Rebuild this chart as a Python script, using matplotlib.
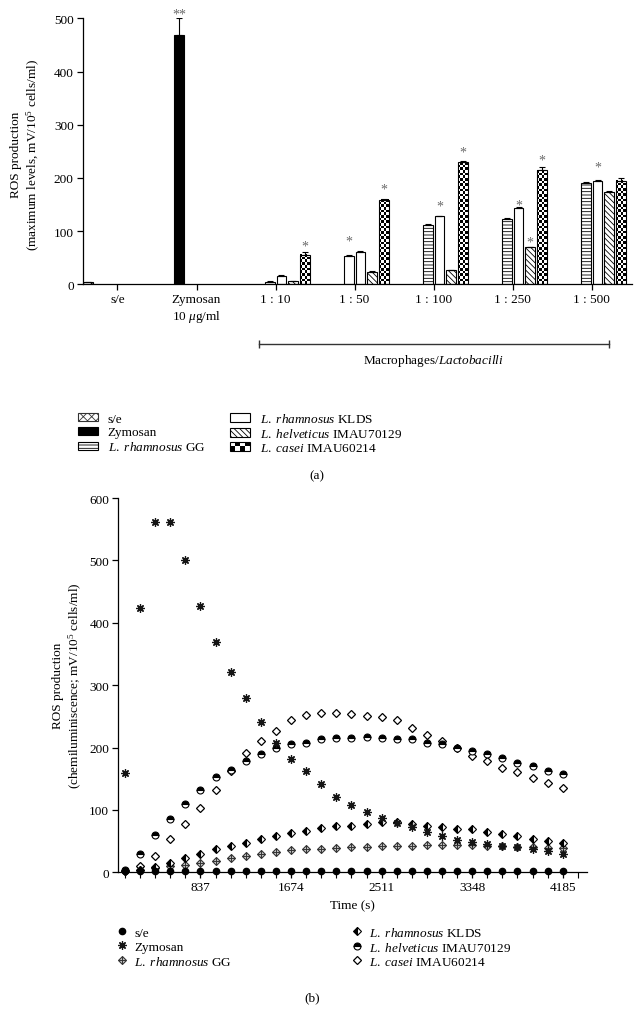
import numpy as np
import matplotlib
matplotlib.use("Agg")
import matplotlib.pyplot as plt
import matplotlib.transforms as mtransforms
from matplotlib.patches import Patch, Rectangle
from matplotlib.lines import Line2D
from matplotlib.legend_handler import HandlerBase, HandlerTuple
from matplotlib.ticker import MultipleLocator

FS = 9.5

plt.rcParams.update({
    "font.family": "Liberation Serif",
    "mathtext.fontset": "custom",
    "mathtext.rm": "Liberation Serif",
    "mathtext.it": "Liberation Serif:italic",
    "font.size": FS,
    "axes.linewidth": 0.9,
    "xtick.major.width": 0.9, "ytick.major.width": 0.9,
    "xtick.major.size": 4, "ytick.major.size": 4,
    "xtick.minor.width": 0.8, "xtick.minor.size": 4,
    "xtick.major.pad": 2.5, "ytick.major.pad": 2.5,
    "hatch.linewidth": 0.6,
})

# ---------------- data: panel (a), maximum ROS levels ----------------
categories = ["s/e", "Zymosan\n10 $\\mu$g/ml", "1 : 10", "1 : 50", "1 : 100", "1 : 250", "1 : 500"]
se_max = [4]
se_err = [1]
zym_max = [468]
zym_err = [32]
gg_max = [5, 54, 112, 123, 191]
gg_err = [1, 1, 2, 1, 1]
klds_max = [16, 61, 128, 143, 194]
klds_err = [1, 1, 1, 2, 2]
helv_max = [6, 24, 26, 70, 174]
helv_err = [1, 1, 1, 1, 1]
casei_max = [56, 158, 229, 214, 195]
casei_err = [4, 2, 2, 6, 5]
# significance marks: (category, slot, y of mark, text)
sig_marks = [(1, 1, 515, "**"), (2, 5, 79, "*"), (3, 2, 90, "*"), (3, 5, 187, "*"),
             (4, 3, 154, "*"), (4, 5, 257, "*"), (5, 3, 157, "*"), (5, 4, 87, "*"),
             (5, 5, 242, "*"), (6, 3, 229, "*")]

# ---------------- data: panel (b), kinetics ----------------
time_s = [139.5, 279, 418.5, 558, 697.5, 837, 976.5, 1116, 1255.5, 1395,
          1534.5, 1674, 1813.5, 1953, 2092.5, 2232, 2371.5, 2511, 2650.5, 2790,
          2929.5, 3069, 3208.5, 3348, 3487.5, 3627, 3766.5, 3906, 4045.5, 4185]
se_kin = [3, 2, 2, 2, 2, 2, 2, 2, 2, 2, 2, 2, 2, 2, 2,
          2, 2, 2, 2, 2, 2, 2, 2, 2, 2, 2, 2, 2, 2, 2]
zym_kin = [160, 423, 561, 561, 500, 427, 370, 321, 280, 241, 207, 181, 162, 142, 121,
           108, 97, 87, 79, 72, 64, 58, 52, 48, 45, 42, 40, 37, 34, 30]
gg_kin = [2, 4, 7, 10, 12, 15, 19, 23, 27, 30, 32, 36, 37, 38, 39,
          41, 41, 42, 42, 43, 44, 44, 44, 44, 43, 42, 41, 41, 39, 39]
klds_kin = [3, 4, 8, 15, 23, 29, 38, 42, 47, 54, 58, 63, 66, 71, 74,
            75, 78, 80, 80, 78, 75, 73, 70, 69, 65, 62, 58, 54, 51, 47]
helv_kin = [4, 29, 60, 85, 109, 132, 153, 164, 178, 190, 200, 205, 208, 213, 216,
            216, 217, 216, 214, 213, 208, 205, 200, 194, 189, 183, 176, 171, 163, 157]
casei_kin = [3, 11, 27, 53, 77, 103, 132, 162, 192, 211, 227, 244, 252, 256, 256,
             254, 251, 249, 245, 231, 220, 210, 200, 187, 179, 167, 161, 151, 144, 135]
time_ticks = [837, 1674, 2511, 3348, 4185]

lab_se = "s/e"
lab_zym = "Zymosan"
lab_gg = "$\\it{L.\\ rhamnosus}$ GG"
lab_klds = "$\\it{L.\\ rhamnosus}$ KLDS"
lab_helv = "$\\it{L.\\ helveticus}$ IMAU70129"
lab_casei = "$\\it{L.\\ casei}$ IMAU60214"

W, H = 641, 1020


def fx(px):
    return px / W


def fy(py):
    return 1 - py / H


class CheckerHandler(HandlerBase):
    def create_artists(self, legend, orig_handle, xdescent, ydescent, width, height, fontsize, trans):
        nx, ny = 4, 2
        arts = []
        for i in range(nx):
            for j in range(ny):
                fc = "black" if (i + j) % 2 == 0 else "white"
                arts.append(Rectangle((-xdescent + i * width / nx, -ydescent + j * height / ny),
                                      width / nx, height / ny, facecolor=fc, edgecolor="none",
                                      transform=trans))
        arts.append(Rectangle((-xdescent, -ydescent), width, height, fill=False,
                              edgecolor="black", lw=0.8, transform=trans))
        return arts


def checker_fill(ax, rect, cell=5.0, ncol=4):
    x0, y0 = rect.get_x(), rect.get_y()
    w, h = rect.get_width(), rect.get_height()
    rows = max(1, int(round(h / cell)))
    grid = np.indices((rows, ncol)).sum(axis=0) % 2
    ax.imshow(grid, cmap="gray", vmin=0, vmax=1, extent=(x0, x0 + w, y0, y0 + h),
              origin="lower", aspect="auto", interpolation="nearest", zorder=2)


fig = plt.figure(figsize=(W / 100, H / 100), dpi=100)
fig.patch.set_facecolor("white")

# ======================= panel (a) =======================
ax1 = fig.add_axes([fx(82.7), fy(285.3), fx(632) - fx(82.7), fy(19.3) - fy(285.3)])
slot_w = 0.148
bar_w = 0.123
ratio_pos = np.arange(2, 7)


def slot_x(cats, slot):
    return np.asarray(cats, dtype=float) + (slot - 2.5) * slot_w


bar_kw = dict(width=bar_w, edgecolor="black", linewidth=0.8, zorder=2)
err_kw = dict(fmt="none", ecolor="black", elinewidth=0.8, capsize=2.2, capthick=0.8, zorder=4)

ax1.bar(slot_x([0], 0), se_max, facecolor="white", hatch="xxxx", **bar_kw)
ax1.errorbar(slot_x([0], 0), se_max, yerr=[[0], se_err], **err_kw)
ax1.bar(slot_x([1], 1), zym_max, facecolor="black", **bar_kw)
ax1.errorbar(slot_x([1], 1), zym_max, yerr=[[0], zym_err], **err_kw)

gg_bars = ax1.bar(slot_x(ratio_pos, 2), gg_max, facecolor="white", **bar_kw)
for b, h in zip(gg_bars, ["", "", "-----", "-----", "-----"]):
    b.set_hatch(h)
ax1.bar(slot_x(ratio_pos, 3), klds_max, facecolor="white", **bar_kw)
ax1.bar(slot_x(ratio_pos, 4), helv_max, facecolor="white", hatch="\\\\\\\\\\\\", **bar_kw)
casei_bars = ax1.bar(slot_x(ratio_pos, 5), casei_max, facecolor="none",
                     width=bar_w, edgecolor="black", linewidth=0.8, zorder=3)
for b in casei_bars:
    checker_fill(ax1, b)

for slot, vals, errs in [(2, gg_max, gg_err), (3, klds_max, klds_err),
                         (4, helv_max, helv_err), (5, casei_max, casei_err)]:
    ax1.errorbar(slot_x(ratio_pos, slot), vals, yerr=[np.zeros(len(errs)), errs], **err_kw)

for cat, slot, y, txt in sig_marks:
    ax1.annotate(txt, (slot_x([cat], slot)[0], y), xytext=(0, -5.5), textcoords="offset points",
                 ha="center", va="baseline", color="#6a6a6a", fontsize=10, annotation_clip=False)

ax1.set_xlim(-0.44, 6.51)
ax1.set_ylim(0, 500)
ax1.set_xticks(range(len(categories)))
ax1.set_xticklabels(categories, linespacing=1.2)
ax1.set_yticks([0, 100, 200, 300, 400, 500])
for s in ("top", "right"):
    ax1.spines[s].set_visible(False)
ax1.tick_params(labelsize=FS)

fig.text(fx(25.8), fy(155), "ROS production\n(maximum levels, mV/10$^5$ cells/ml)",
         rotation=90, ha="center", va="center", multialignment="center", fontsize=FS,
         linespacing=1.2)

# ratio bracket
br_tr = mtransforms.blended_transform_factory(ax1.transData, fig.transFigure)
ax1.plot([ratio_pos[0] - 0.215, ratio_pos[-1] + 0.215], [fy(345), fy(345)], color="#333333",
         lw=1.0, transform=br_tr, clip_on=False, marker="|", ms=6, mew=1.0)
ax1.text(ratio_pos.mean(), fy(361), "Macrophages/$\\it{Lactobacilli}$", transform=br_tr,
         ha="center", va="center", fontsize=FS)

# legend (a)
h_se = Patch(facecolor="white", edgecolor="#333333", hatch="xxxx", lw=0.8)
h_zym = Patch(facecolor="black", edgecolor="black", lw=0.8)
h_gg = Patch(facecolor="white", edgecolor="black", hatch="-----", lw=0.8)
h_klds = Patch(facecolor="white", edgecolor="black", lw=0.8)
h_helv = Patch(facecolor="white", edgecolor="black", hatch="\\\\\\\\\\\\", lw=0.8)
h_casei = Patch(facecolor="black")
leg_kw = dict(loc="center left", frameon=False, borderpad=0, borderaxespad=0, fontsize=FS,
              labelspacing=0.15, handlelength=1.5, handleheight=0.6, handletextpad=0.75)
fig.legend([h_se, h_zym, h_gg], [lab_se, lab_zym, lab_gg],
           bbox_to_anchor=(fx(78), fy(434)), **leg_kw)
fig.legend([h_klds, h_helv, h_casei], [lab_klds, lab_helv, lab_casei],
           bbox_to_anchor=(fx(230), fy(434)), handler_map={h_casei: CheckerHandler()}, **leg_kw)
fig.text(fx(317), fy(476), "(a)", ha="center", va="center", fontsize=FS)

# ======================= panel (b) =======================
ax2 = fig.add_axes([fx(118.3), fy(873.4), fx(587) - fx(118.3), fy(499) - fy(873.4)])
sty_se = dict(ls="none", marker="o", color="black", ms=4.5)
sty_zym = dict(ls="none", marker=(8, 2, 0), color="#151515", ms=6, mew=0.9)
sty_ggd = dict(ls="none", marker="D", mfc="#c4c4c4", mec="#333333", ms=4.3, mew=0.8)
sty_ggp = dict(ls="none", marker="+", color="#333333", ms=5.5, mew=0.7)
sty_klds = dict(ls="none", marker="D", fillstyle="left", mfc="black", mfcalt="white",
                mec="black", ms=4.3, mew=0.8)
sty_helv = dict(ls="none", marker="o", fillstyle="top", mfc="black", mfcalt="white",
                mec="black", ms=5, mew=0.8)
sty_casei = dict(ls="none", marker="D", mfc="white", mec="black", ms=4.5, mew=0.9)

ax2.plot(time_s, casei_kin, zorder=3, clip_on=False, **sty_casei)
ax2.plot(time_s, helv_kin, zorder=3, clip_on=False, **sty_helv)
ax2.plot(time_s, gg_kin, zorder=3, clip_on=False, **sty_ggd)
ax2.plot(time_s, gg_kin, zorder=3, clip_on=False, **sty_ggp)
ax2.plot(time_s, klds_kin, zorder=3, clip_on=False, **sty_klds)
ax2.plot(time_s, zym_kin, zorder=4, clip_on=False, **sty_zym)
ax2.plot(time_s, se_kin, zorder=4, clip_on=False, **sty_se)

ax2.set_xlim(77.6, 4409)
ax2.set_ylim(0, 600)
ax2.set_xticks(time_ticks)
ax2.xaxis.set_minor_locator(MultipleLocator(139.5))
ax2.set_yticks([0, 100, 200, 300, 400, 500, 600])
for s in ("top", "right"):
    ax2.spines[s].set_visible(False)
ax2.tick_params(labelsize=FS)
ax2.set_xlabel("Time (s)", fontsize=FS, labelpad=4)

fig.text(fx(68), fy(686), "ROS production\n(chemiluminiscence; mV/10$^5$ cells/ml)",
         rotation=90, ha="center", va="center", multialignment="center", fontsize=FS,
         linespacing=1.2)

# legend (b)
hb_se = Line2D([], [], **sty_se)
hb_zym = Line2D([], [], **sty_zym)
hb_gg = (Line2D([], [], **sty_ggd), Line2D([], [], **sty_ggp))
hb_klds = Line2D([], [], **sty_klds)
hb_helv = Line2D([], [], **sty_helv)
hb_casei = Line2D([], [], **sty_casei)
legb_kw = dict(loc="center left", frameon=False, borderpad=0, borderaxespad=0, fontsize=FS,
               labelspacing=0.15, handlelength=1.0, handletextpad=0.4, numpoints=1,
               handler_map={tuple: HandlerTuple(ndivide=1, pad=0)})
fig.legend([hb_se, hb_zym, hb_gg], [lab_se, lab_zym, lab_gg],
           bbox_to_anchor=(fx(115.8), fy(948)), **legb_kw)
fig.legend([hb_klds, hb_helv, hb_casei], [lab_klds, lab_helv, lab_casei],
           bbox_to_anchor=(fx(350.8), fy(948)), **legb_kw)
fig.text(fx(312), fy(998), "(b)", ha="center", va="center", fontsize=FS)

fig.savefig("out.png", dpi=100, facecolor="white")
